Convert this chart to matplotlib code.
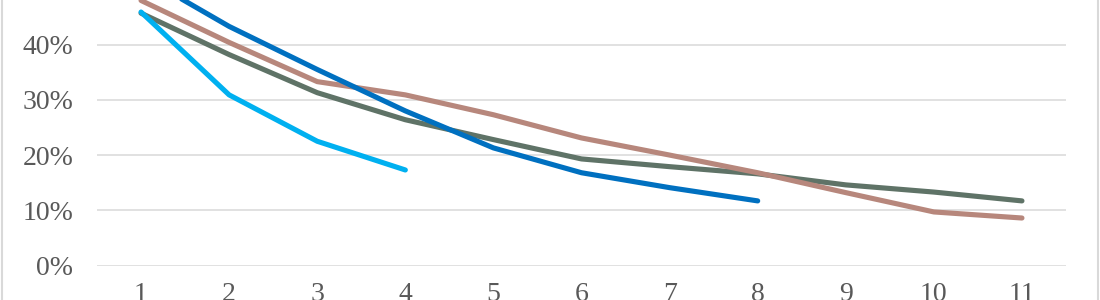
import matplotlib
matplotlib.use("Agg")
import matplotlib.pyplot as plt
from matplotlib.lines import Line2D
from matplotlib.ticker import PercentFormatter

periods = [1, 2, 3, 4, 5, 6, 7, 8, 9, 10, 11]
y_ticks = [0, 0.1, 0.2, 0.3, 0.4, 0.5]

green = [0.457, 0.382, 0.313, 0.264, 0.228, 0.193, 0.179, 0.166, 0.146, 0.133, 0.117]
brown = [0.480, 0.404, 0.333, 0.309, 0.273, 0.231, 0.200, 0.168, 0.132, 0.097, 0.086]
blue = [0.525, 0.433, 0.355, 0.280, 0.213, 0.168, 0.141, 0.117]
light_blue = [0.459, 0.309, 0.225, 0.173]

series = [
    (green, "#5F7367"),
    (brown, "#B7877C"),
    (blue, "#0070C0"),
    (light_blue, "#00B0F0"),
]

fig = plt.figure(figsize=(11, 3), dpi=100)
# axes runs past the top of the figure, like the cropped original
ax = fig.add_axes([97 / 1100, 34.5 / 300, 969 / 1100, 331.3 / 300])

for i, (vals, col) in enumerate(series):
    ax.plot(periods[:len(vals)], vals, color=col, lw=3.7,
            solid_capstyle="round", solid_joinstyle="round", zorder=3 + i)

ax.set_xlim(0.5, 11.5)
ax.set_ylim(0, 0.6)
ax.set_yticks(y_ticks)
ax.set_xticks(periods)
ax.yaxis.set_major_formatter(PercentFormatter(1, decimals=0))
ax.grid(axis="y", color="#D9D9D9", lw=1.1)
ax.set_axisbelow(True)
for s in ax.spines.values():
    s.set_visible(False)
ax.tick_params(length=0, labelsize=20, labelcolor="#595959")
ax.tick_params(axis="y", pad=17)
ax.tick_params(axis="x", pad=12)
for lab in ax.get_xticklabels() + ax.get_yticklabels():
    lab.set_family("Liberation Serif")

# chart border, left and right edges
for xf in (1.5 / 1100, 1098 / 1100):
    fig.add_artist(Line2D([xf, xf], [0, 1], transform=fig.transFigure,
                          color="#D9D9D9", lw=1.5))

fig.savefig("out.png", dpi=100)
